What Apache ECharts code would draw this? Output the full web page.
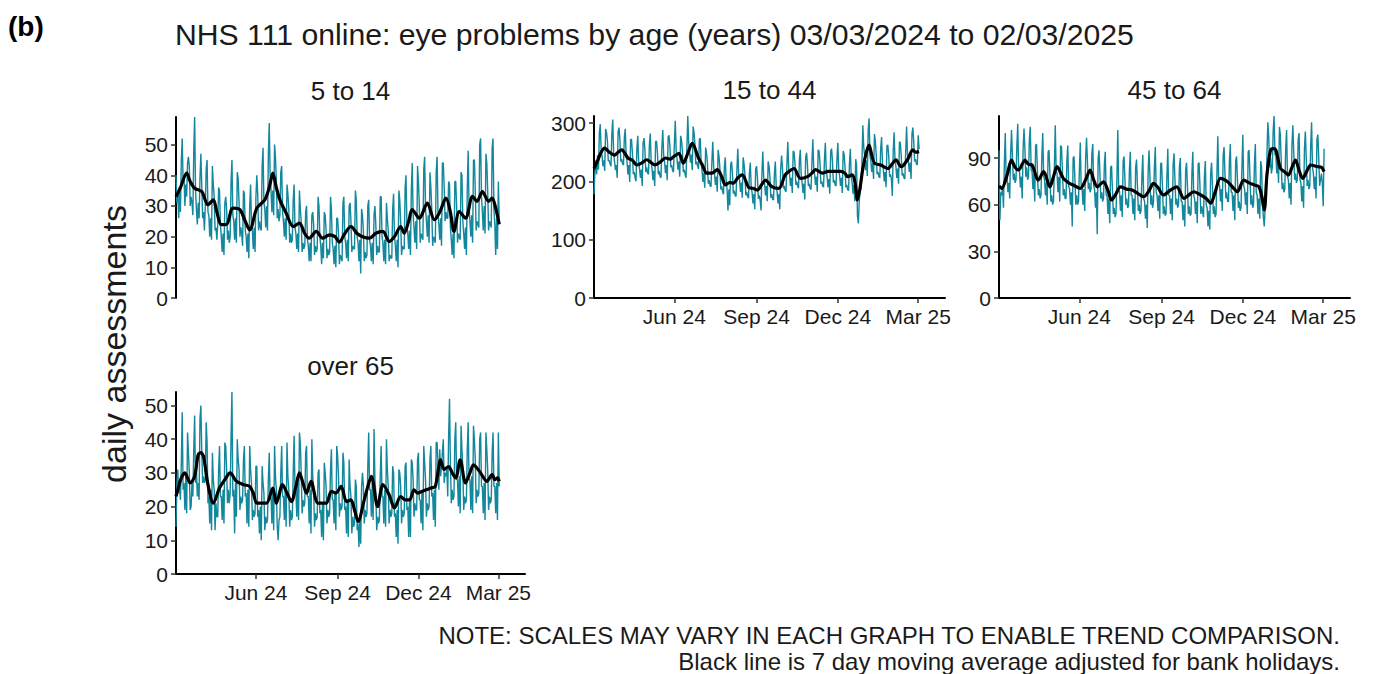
<!DOCTYPE html>
<html>
<head>
<meta charset="utf-8">
<script src="https://cdn.jsdelivr.net/npm/echarts@6.0.0/dist/echarts.min.js"></script>
<style>
html,body{margin:0;padding:0;background:#fff;}
#chart{width:1375px;height:674px;}
</style>
</head>
<body>
<div id="chart"></div>
<script>
// ---- data (day 0 = 03/03/2024, last day 364 = 02/03/2025) ----
const mainTitle = 'NHS 111 online: eye problems by age (years) 03/03/2024 to 02/03/2025';
const panelLabel = '(b)';
const yAxisTitle = 'daily assessments';
const noteLines = ['NOTE: SCALES MAY VARY IN EACH GRAPH TO ENABLE TREND COMPARISON.',
                   'Black line is 7 day moving average adjusted for bank holidays.'];
const panelTitles = ['5 to 14', '15 to 44', '45 to 64', 'over 65'];
const xTickDays = [90, 182, 273, 363];          // 01 Jun 24, 01 Sep 24, 01 Dec 24, 01 Mar 25
const xTickLabels = ['Jun 24', 'Sep 24', 'Dec 24', 'Mar 25'];
const xAxisEndDay = 393;                         // 31 Mar 25
const yTicks5to14 = [0, 10, 20, 30, 40, 50];
const yTicks15to44 = [0, 100, 200, 300];
const yTicks45to64 = [0, 30, 60, 90];
const yTicks65plus = [0, 10, 20, 30, 40, 50];

const age5to14 = [
40,31,35,26,36,28,45, 52,38,40,30,37,33,44, 46,43,30,33,31,27,48, 59,35,29,24,31,26,39,
47,37,26,28,22,30,42, 45,28,27,20,26,19,43, 37,33,22,23,19,24,36, 35,24,20,15,21,14,31,
33,29,19,22,18,20,38, 45,27,25,19,26,18,41, 39,31,20,23,21,17,35, 34,22,20,15,21,13,30,
37,24,22,16,23,15,33, 40,34,22,25,23,22,43, 49,31,29,23,30,22,47, 57,40,35,28,35,27,50,
46,38,26,29,25,27,41, 43,28,25,20,26,19,37, 34,29,18,21,18,19,32, 37,23,21,16,21,15,35,
29,25,15,18,16,17,28, 30,19,17,12,18,12,27, 28,24,14,17,15,16,33, 30,20,17,11,18,13,28,
27,22,13,16,14,15,33, 29,18,16,11,17,10,26, 26,21,11,14,13,12,31, 33,20,18,13,19,12,30,
31,25,15,17,16,16,35, 32,20,18,12,19,8,29, 27,22,12,15,13,14,30, 32,19,17,12,18,11,27,
30,24,14,17,15,15,33, 33,20,18,12,19,11,31, 26,22,12,14,13,13,29, 34,20,17,12,19,10,35,
32,25,14,17,16,16,36, 40,24,21,16,22,14,35, 44,27,23,18,25,16,43, 38,30,18,21,20,19,42,
46,29,25,20,27,18,41, 36,29,17,20,19,18,41, 46,28,24,19,26,17,44, 44,36,25,28,26,26,38,
37,23,19,14,21,13,38, 38,30,18,21,20,19,41, 40,25,21,16,23,14,36, 48,30,25,20,27,18,45,
45,35,22,25,24,23,50, 52,33,28,22,30,21,47, 44,35,22,25,24,23,49, 52,29,24,14,26,16,38,
25];

const age15to44 = [
178,215,236,212,245,220,283, 298,255,244,226,236,218,290, 284,270,235,236,230,226,282,
306,248,234,219,228,206,285, 292,272,234,238,230,228,276, 290,244,234,212,228,199,272,
272,248,212,216,206,200,256, 278,234,221,206,220,192,266, 274,254,216,224,214,212,262,
282,234,221,202,218,192,268, 269,250,212,218,208,206,258, 288,244,234,214,228,202,276,
279,260,224,228,218,216,264, 304,252,238,220,234,208,278, 270,252,216,220,212,206,256,
312,266,251,232,246,219,294, 284,264,229,234,226,221,272, 274,230,218,199,214,189,258,
249,231,196,202,192,191,234, 268,224,212,194,208,182,254, 242,221,186,192,182,178,226,
241,199,186,150,186,159,228, 234,214,179,184,176,174,219, 256,212,202,182,198,172,241,
230,211,176,182,174,171,214, 232,190,181,162,178,152,221, 226,206,170,176,168,150,212,
251,206,196,176,192,166,234, 226,206,172,178,169,168,212, 234,192,182,162,178,152,221,
244,224,188,192,184,182,229, 268,222,211,192,206,180,252, 250,231,194,200,192,188,236,
254,210,198,180,196,169,241, 249,228,192,196,188,186,232, 272,224,212,194,208,182,254,
252,232,196,200,192,190,236, 266,220,208,190,204,179,251, 256,234,198,202,194,192,238,
266,220,210,192,206,180,252, 246,226,190,194,186,184,230, 256,208,198,179,194,166,238,
228,140,128,165,190,185,232, 296,259,244,219,236,209,288, 308,244,234,216,231,204,281,
269,246,212,216,208,206,256, 276,230,220,200,216,190,261, 262,244,208,212,204,175,252,
284,238,226,206,222,196,268, 266,244,210,214,206,204,252, 294,246,234,216,232,204,281,
292,268,234,238,230,228,279,
255];

const age45to64 = [
95,50,68,66,72,58,86, 106,78,78,68,74,64,92, 108,92,76,80,74,76,98, 112,82,81,71,78,64,96,
109,96,78,84,76,78,102, 110,82,82,70,80,62,98, 99,82,66,70,64,66,91, 106,78,76,66,74,60,94,
95,80,62,66,60,62,84, 111,82,80,68,78,62,98, 97,82,66,70,64,64,88, 98,72,70,60,68,46,90,
91,76,60,66,60,62,82, 100,72,72,60,70,56,90, 103,88,70,74,68,70,93, 99,72,70,58,68,41,90,
95,80,64,68,62,64,86, 94,66,66,54,64,48,84, 85,70,54,58,52,54,76, 108,70,68,56,66,52,88,
91,76,60,64,58,59,82, 94,66,66,54,64,50,84, 89,72,56,60,54,56,78, 92,64,62,51,60,45,82,
95,78,60,66,58,62,84, 97,68,66,56,66,51,86, 87,72,54,59,53,54,78, 96,66,66,54,64,50,86,
93,76,60,64,58,60,84, 90,62,62,50,60,46,82, 87,72,54,59,53,54,80, 94,66,64,54,62,48,86,
87,72,54,59,55,52,78, 88,60,58,46,56,44,80, 87,72,54,59,52,54,80, 104,74,72,62,70,56,92,
97,80,64,68,62,62,88, 99,68,68,56,66,50,88, 91,76,58,62,56,58,84, 105,72,70,60,68,54,94,
95,78,60,66,58,60,86, 99,68,66,54,64,51,88, 84,60,52,46,58,62,92, 113,104,84,90,80,84,108,
117,92,92,80,90,74,110, 105,88,70,74,68,70,96, 108,78,76,64,74,60,98, 111,94,76,80,74,76,102,
106,76,74,62,72,58,96, 107,90,72,76,70,72,98, 113,84,80,70,78,64,102, 105,90,72,76,80,74,59,
96];

const age65plus = [
14,27,31,24,26,22,33, 48,25,27,19,29,18,42, 36,30,19,20,27,23,37, 47,27,31,23,27,22,46,
50,37,27,29,27,28,45, 39,21,23,15,25,13,36, 28,25,13,21,17,17,31, 38,23,23,16,25,15,39,
38,31,21,25,21,24,41, 54,23,25,12,27,17,40, 34,31,19,23,21,22,34, 38,23,24,15,25,14,38,
31,27,16,19,17,18,32, 32,17,19,12,20,10,32, 27,24,13,17,15,16,28, 36,22,23,15,24,13,38,
29,25,14,10,16,17,30, 38,23,23,16,25,14,39, 29,25,14,19,16,17,30, 41,25,25,17,27,16,42,
39,30,18,22,20,21,36, 38,23,23,15,25,12,40, 29,25,14,18,16,17,30, 31,18,19,11,21,10,33,
30,26,15,19,17,18,31, 37,22,22,15,24,13,38, 35,29,17,21,19,20,36, 33,19,20,12,22,11,34,
26,23,12,17,14,15,28, 26,13,15,8,16,9,26, 30,26,15,19,17,18,32, 42,25,25,17,27,16,43,
28,24,13,17,15,16,29, 38,23,23,15,25,14,40, 31,26,15,19,17,18,32, 30,17,18,11,19,9,31,
30,26,15,19,17,18,32, 33,19,20,11,22,11,34, 33,28,17,21,19,19,34, 36,22,22,15,24,13,38,
33,28,17,21,19,20,34, 38,23,24,16,25,14,39, 39,33,25,37,29,32,36, 40,27,30,29,31,23,41,
52,33,21,25,22,23,40, 45,28,28,20,29,18,44, 37,31,19,23,21,22,37, 45,28,28,19,29,18,44,
40,34,21,25,23,24,40, 42,26,26,18,27,16,42, 37,31,19,23,21,22,36, 42,26,26,18,27,16,42,
26];

// 7 day moving average: [day, value]
const ma5to14 = [[0,33],[5,36],[12,40.7],[16,38],[21,35.8],[29,34.7],[36,30.4],[42,32],[46,28],[51,23.9],[57,24],[64,29.3],[72,28.8],[78,25],[83,22.2],[91,29.3],[100,32],[105,36],[109,40.7],[113,36],[117,32],[124,27.7],[132,23.3],[139,24.4],[145,21],[150,19.5],[158,21.7],[165,19.5],[173,20.6],[179,20],[184,18.2],[190,21],[197,23.3],[204,21],[210,20],[218,19.5],[225,21.1],[233,21.7],[240,18.4],[246,20],[253,23.3],[257,21.1],[262,25],[266,28.8],[274,26],[283,30.9],[291,25.5],[297,28],[304,32.6],[309,28],[313,21.7],[319,28.2],[326,26],[334,33.1],[339,31.5],[345,34.7],[352,31.5],[356,32.6],[360,29.3],[364,24]];
const ma15to44 = [[0,222],[4,235],[8,250],[12,257],[17,250],[23,245],[27,250],[31,254],[38,240],[43,236],[48,228],[54,232],[59,237],[64,232],[68,228],[74,233],[80,240],[85,238],[89,242],[95,248],[100,231],[105,248],[110,265],[117,240],[122,226],[126,214],[132,214],[138,220],[143,208],[147,194],[152,198],[156,197],[161,206],[166,211],[173,190],[178,188],[183,185],[188,195],[192,202],[199,191],[207,188],[214,211],[219,218],[224,222],[231,205],[239,208],[244,214],[248,220],[256,214],[262,217],[267,217],[276,217],[281,214],[284,208],[289,211],[292,200],[295,168],[298,190],[301,222],[305,250],[308,262],[311,245],[314,231],[321,228],[329,222],[334,230],[338,237],[344,225],[351,237],[357,254],[360,250],[364,251]];
const ma45to64 = [[0,72],[3,70.5],[9,79],[14,88.7],[18,84],[22,82.3],[26,86],[29,88.7],[33,86],[37,85.5],[44,75.8],[50,81.2],[57,71.5],[61,78],[65,84.4],[72,76.9],[78,74],[83,72.6],[91,70.5],[97,76],[102,82.3],[106,76],[110,71.5],[117,74.7],[122,69],[126,63],[131,67],[136,71.5],[143,70],[149,69.4],[156,67],[162,65.1],[168,69],[173,73.7],[178,71],[184,66.2],[192,69.4],[199,71.5],[207,64.1],[212,66],[218,68.3],[226,66.2],[232,64],[237,60.9],[242,68],[248,76.9],[256,74.7],[262,71],[267,68.3],[274,75.8],[280,74],[286,72.6],[291,71.5],[294,66],[297,56.6],[300,79],[304,95.1],[307,96],[310,95.1],[315,83.4],[320,81],[324,79],[328,84],[332,88.7],[336,82],[340,76.9],[345,82],[349,85.5],[353,85],[357,84.4],[361,84],[364,81.2]];
const ma65plus = [[0,23],[1,24],[6,28.5],[10,30],[16,27],[21,29],[25,35.4],[28,36],[31,34.9],[36,26.5],[42,21],[49,25.5],[55,28],[61,30],[68,27.5],[76,26.5],[83,26],[87,24],[91,21],[97,21],[102,21],[109,25.5],[113,21],[120,26.5],[125,24],[130,21.5],[135,26],[139,30],[143,27],[147,24],[152,27.5],[160,21],[169,21],[175,24.5],[180,24],[186,26],[192,21.5],[197,22],[201,19],[205,15.6],[212,22],[216,26],[220,29],[227,20],[233,26.5],[240,23.5],[246,19.6],[253,23],[258,22],[263,22],[268,25],[272,24],[277,24.5],[282,25],[287,25.5],[292,26],[298,33.9],[302,31],[307,31.9],[311,30],[315,28.5],[320,33.9],[326,27],[331,30],[335,32.4],[343,30],[350,27.5],[356,29.5],[359,28],[362,28.5],[364,27.5]];

// ---- layout & style ----
const FONT = '"Liberation Sans", Arial, Helvetica, sans-serif';
const TEAL = '#13879b';
const TEXT = '#1a1a1a';

const panels = [
  {title: panelTitles[0], daily: age5to14, ma: ma5to14, yticks: yTicks5to14, left: 176, top: 117, width: 349, height: 181, showX: false},
  {title: panelTitles[1], daily: age15to44, ma: ma15to44, yticks: yTicks15to44, left: 594, top: 116, width: 351, height: 182, showX: true},
  {title: panelTitles[2], daily: age45to64, ma: ma45to64, yticks: yTicks45to64, left: 999, top: 116, width: 351, height: 182, showX: true},
  {title: panelTitles[3], daily: age65plus, ma: ma65plus, yticks: yTicks65plus, left: 176, top: 392, width: 349, height: 182, showX: true}
];

const grids = [], xAxes = [], yAxes = [], series = [], graphics = [];
panels.forEach((p, i) => {
  grids.push({left: p.left, top: p.top, width: p.width, height: p.height});
  xAxes.push({
    type: 'value', gridIndex: i, min: 0, max: xAxisEndDay,
    axisLine: {show: p.showX, onZero: false, lineStyle: {color: '#000', width: 2}},
    axisTick: {show: p.showX, length: 5, lineStyle: {color: '#333', width: 1.5}, customValues: xTickDays},
    axisLabel: {show: p.showX, customValues: xTickDays, fontFamily: FONT, fontSize: 21, color: TEXT, margin: 8,
                formatter: v => xTickLabels[xTickDays.indexOf(v)] || ''},
    splitLine: {show: false}
  });
  yAxes.push({
    type: 'value', gridIndex: i, min: 0, max: 'dataMax',
    axisLine: {show: true, onZero: false, lineStyle: {color: '#000', width: 2}},
    axisTick: {show: true, length: 5, lineStyle: {color: '#333', width: 1.5}, customValues: p.yticks},
    axisLabel: {customValues: p.yticks, fontFamily: FONT, fontSize: 21, color: TEXT, margin: 8},
    splitLine: {show: false}
  });
  series.push({
    type: 'line', xAxisIndex: i, yAxisIndex: i, data: p.daily.map((v, d) => [d, v]),
    symbol: 'none', showSymbol: false, sampling: null, animation: false, z: 2,
    lineStyle: {color: TEAL, width: 1.4}
  });
  series.push({
    type: 'line', xAxisIndex: i, yAxisIndex: i, data: p.ma, smooth: 0.3,
    symbol: 'none', showSymbol: false, animation: false, z: 3,
    lineStyle: {color: '#000', width: 3.2, join: 'round'}
  });
  graphics.push({type: 'text', x: p.left + p.width / 2, y: p.top - 26,
    style: {text: p.title, font: '26px ' + FONT, fill: TEXT, textAlign: 'center', textVerticalAlign: 'middle'}});
});

graphics.push({type: 'text', x: 8, y: 26,
  style: {text: panelLabel, font: 'bold 28px ' + FONT, fill: '#000', textAlign: 'left', textVerticalAlign: 'middle'}});
graphics.push({type: 'text', x: 175, y: 34,
  style: {text: mainTitle, font: '30.2px ' + FONT, fill: TEXT, textAlign: 'left', textVerticalAlign: 'middle'}});
graphics.push({type: 'text', x: 114, y: 344, rotation: Math.PI / 2,
  style: {text: yAxisTitle, font: '34px ' + FONT, fill: TEXT, textAlign: 'center', textVerticalAlign: 'middle'}});
graphics.push({type: 'text', x: 1340, y: 635,
  style: {text: noteLines[0], font: '24px ' + FONT, fill: TEXT, textAlign: 'right', textVerticalAlign: 'middle'}});
graphics.push({type: 'text', x: 1340, y: 661,
  style: {text: noteLines[1], font: '24px ' + FONT, fill: TEXT, textAlign: 'right', textVerticalAlign: 'middle'}});

const chart = echarts.init(document.getElementById('chart'), null, {renderer: 'svg'});
chart.setOption({
  backgroundColor: '#fff',
  animation: false,
  grid: grids,
  xAxis: xAxes,
  yAxis: yAxes,
  series: series,
  graphic: graphics
});
</script>
</body>
</html>
